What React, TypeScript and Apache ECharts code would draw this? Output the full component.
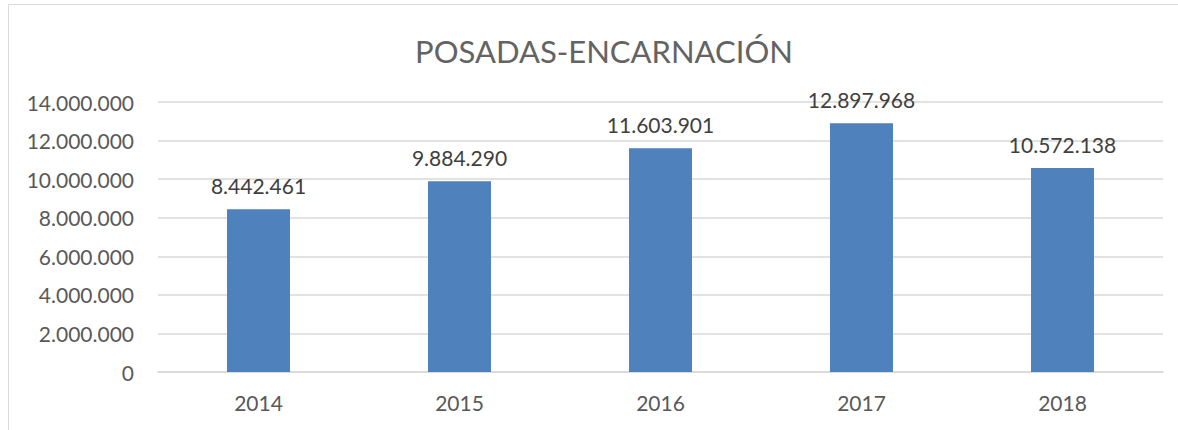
import React, { useEffect, useRef } from "react";
import * as echarts from "echarts";

const categories: string[] = ["2014", "2015", "2016", "2017", "2018"];
const values: number[] = [8442461, 9884290, 11603901, 12897968, 10572138];
const titleText = "POSADAS-ENCARNACIÓN";
const yMax = 14000000;
const yInterval = 2000000;

function fmt(n: number): string {
  return String(Math.round(n)).replace(/\B(?=(\d{3})+(?!\d))/g, ".");
}

export default function App() {
  const ref = useRef<HTMLDivElement>(null);
  useEffect(() => {
    document.body.style.margin = "0";
    const chart = echarts.init(ref.current!, null, { renderer: "svg" });
    const font = "Lato, 'Liberation Sans', Arial, sans-serif";
    chart.setOption({
      animation: false,
      backgroundColor: "#ffffff",
      title: {
        text: titleText,
        left: 599,
        textAlign: "center",
        top: 30,
        textStyle: { fontFamily: font, fontSize: 31, fontWeight: "normal", color: "#636363" },
      },
      graphic: [
        {
          type: "rect",
          shape: { x: 8.5, y: 4.5, width: 1180, height: 440 },
          style: { fill: "none", stroke: "#d9d9d9", lineWidth: 1 },
          silent: true,
        },
      ],
      grid: { left: 158, right: 15, top: 102, bottom: 58, containLabel: false },
      xAxis: {
        type: "category",
        data: categories,
        axisLine: { lineStyle: { color: "#d9d9d9", width: 1.5 } },
        axisTick: { show: false },
        axisLabel: { fontFamily: font, fontSize: 21, color: "#595959", margin: 20 },
      },
      yAxis: {
        type: "value",
        min: 0,
        max: yMax,
        interval: yInterval,
        axisLine: { show: false },
        axisTick: { show: false },
        splitLine: { lineStyle: { color: "#d9d9d9", width: 1.5 } },
        axisLabel: {
          fontFamily: font,
          fontSize: 21,
          color: "#595959",
          margin: 24,
          formatter: (v: number) => fmt(v),
        },
      },
      series: [
        {
          type: "bar",
          data: values,
          barWidth: 63,
          itemStyle: { color: "#4F81BD" },
          label: {
            show: true,
            position: "top",
            distance: 13,
            fontFamily: font,
            fontSize: 21,
            color: "#404040",
            formatter: (p: any) => fmt(p.value),
          },
        },
      ],
    });
    return () => chart.dispose();
  }, []);
  return <div ref={ref} style={{ width: 1178, height: 430 }} />;
}
